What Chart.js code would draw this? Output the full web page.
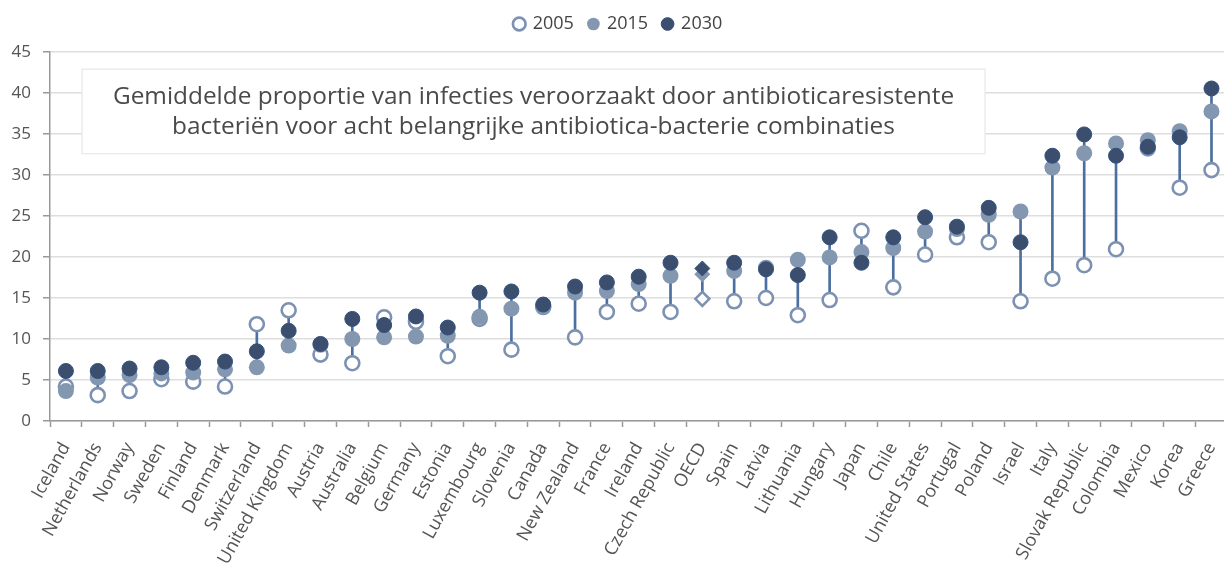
<!DOCTYPE html>
<html>
<head>
<meta charset="utf-8">
<script src="https://cdn.jsdelivr.net/npm/chart.js@4.4.1/dist/chart.umd.min.js"></script>
<style>
  html, body { margin: 0; padding: 0; background: #fff; overflow: hidden; }
</style>
</head>
<body>
<!-- a little wider than the window: the x axis runs off the right edge as in the original -->
<canvas id="chart" width="1237" height="565"></canvas>
<script>
const categories = ["Iceland", "Netherlands", "Norway", "Sweden", "Finland", "Denmark", "Switzerland",
  "United Kingdom", "Austria", "Australia", "Belgium", "Germany", "Estonia", "Luxembourg", "Slovenia",
  "Canada", "New Zealand", "France", "Ireland", "Czech Republic", "OECD", "Spain", "Latvia", "Lithuania",
  "Hungary", "Japan", "Chile", "United States", "Portugal", "Poland", "Israel", "Italy",
  "Slovak Republic", "Colombia", "Mexico", "Korea", "Greece"];

const values2005 = [4.2, 3.15, 3.65, 5.1, 4.8, 4.2, 11.8, 13.5, 8.1, 7.05, 12.65, 12.1, 7.9, 12.45, 8.7,
  13.9, 10.2, 13.3, 14.3, 13.3, 14.9, 14.6, 15.0, 12.9, 14.75, 23.2, 16.3, 20.3, 22.4, 21.8, 14.6, 17.35,
  19.0, 20.95, 33.25, 28.45, 30.6];
const values2015 = [3.65, 5.3, 5.6, 5.8, 5.9, 6.3, 6.55, 9.2, 9.3, 10.0, 10.2, 10.3, 10.4, 12.7, 13.7,
  14.0, 15.65, 15.85, 16.7, 17.7, 17.9, 18.3, 18.7, 19.65, 19.95, 20.6, 21.1, 23.1, 23.4, 25.15, 25.55,
  30.9, 32.65, 33.85, 34.25, 35.35, 37.75];
const values2030 = [6.1, 6.1, 6.4, 6.55, 7.1, 7.25, 8.5, 11.0, 9.4, 12.45, 11.7, 12.75, 11.4, 15.65, 15.8,
  14.2, 16.4, 16.9, 17.6, 19.3, 18.6, 19.3, 18.5, 17.8, 22.4, 19.3, 22.4, 24.85, 23.7, 26.0, 21.8, 32.35,
  34.95, 32.35, 33.45, 34.6, 40.55];

const seriesNames = ["2005", "2015", "2030"];
const titleLines = ["Gemiddelde proportie van infecties veroorzaakt door antibioticaresistente",
  "bacteriën voor acht belangrijke antibiotica-bacterie combinaties"];

const FONT = "'Open Sans', 'Noto Sans', sans-serif";

// OECD average gets a diamond, the countries a circle
const shapes = categories.map(c => c === "OECD" ? "rectRot" : "circle");
// vertical line from lowest to highest of the three years
const spans = categories.map((c, i) => {
  const v = [values2005[i], values2015[i], values2030[i]];
  return [Math.min(...v), Math.max(...v)];
});

// a bit more room under the legend
const legendGap = {
  id: "legendGap",
  beforeUpdate(chart) {
    const lg = chart.legend;
    if (lg && !lg._gapped) {
      const fit = lg.fit;
      lg.fit = function () { fit.call(this); this.height += 9; };
      lg._gapped = true;
    }
  }
};

const titleBox = {
  id: "titleBox",
  beforeDatasetsDraw(chart) {
    const ctx = chart.ctx;
    const a = chart.chartArea;
    const y = chart.scales.y;
    const left = a.left + 32, right = a.left + 935;
    const top = y.getPixelForValue(42.9), bottom = y.getPixelForValue(32.6);
    ctx.save();
    ctx.fillStyle = "#fff";
    ctx.fillRect(left, top, right - left, bottom - top);
    ctx.strokeStyle = "#ececec";
    ctx.lineWidth = 1.5;
    ctx.strokeRect(left, top, right - left, bottom - top);
    ctx.fillStyle = "#4a4a4a";
    ctx.font = "24.4px " + FONT;
    ctx.textAlign = "center";
    ctx.textBaseline = "middle";
    const cx = (left + right) / 2;
    ctx.fillText(titleLines[0], cx, top + 28);
    ctx.fillText(titleLines[1], cx, top + 58);
    ctx.restore();
  }
};

new Chart(document.getElementById("chart"), {
  data: {
    labels: categories,
    datasets: [
      {
        type: "line", label: seriesNames[0], data: values2005, order: 3,
        showLine: false, pointStyle: shapes, pointRadius: 7, pointHoverRadius: 7,
        pointBackgroundColor: "#fff", pointBorderColor: "#7d92b3", pointBorderWidth: 2.6
      },
      {
        type: "line", label: seriesNames[1], data: values2015, order: 2,
        showLine: false, pointStyle: shapes, pointRadius: 8, pointHoverRadius: 8,
        pointBackgroundColor: "#8497b1", pointBorderColor: "#8497b1", pointBorderWidth: 0
      },
      {
        type: "line", label: seriesNames[2], data: values2030, order: 1,
        showLine: false, pointStyle: shapes, pointRadius: 7.5, pointHoverRadius: 7.5,
        pointBackgroundColor: "#3c4e6d", pointBorderColor: "#31507e", pointBorderWidth: 1
      },
      {
        type: "bar", label: "range", data: spans, order: 4,
        backgroundColor: "#4d6f9f", barThickness: 2, borderWidth: 0
      }
    ]
  },
  options: {
    responsive: false,
    animation: false,
    layout: { padding: 0 },
    plugins: {
      tooltip: { enabled: false },
      legend: {
        position: "top",
        labels: {
          usePointStyle: true,
          boxWidth: 9, boxHeight: 9,
          padding: 15,
          color: "#444",
          font: { family: FONT, size: 18 },
          filter: item => item.text !== "range",
          sort: (a, b) => a.datasetIndex - b.datasetIndex
        }
      }
    },
    scales: {
      x: {
        offset: true,
        afterFit: s => { s.height = 144; s.paddingLeft = 0; s.paddingRight = 0; },
        grid: { offset: true, drawOnChartArea: false, tickLength: 6, tickColor: "#999", tickWidth: 1.5 },
        border: { color: "#999", width: 1.5 },
        ticks: {
          autoSkip: false, minRotation: 61, maxRotation: 61, padding: 12,
          color: "#555", font: { family: FONT, size: 18 }
        }
      },
      y: {
        min: 0, max: 45,
        afterFit: s => { s.width = 50; },
        grid: { color: "#dedede", lineWidth: 1.5, tickLength: 7, tickColor: "#999" },
        border: { color: "#999", width: 1.5 },
        ticks: { stepSize: 5, padding: 12, color: "#555", font: { family: FONT, size: 17 } }
      }
    }
  },
  plugins: [legendGap, titleBox]
});
</script>
</body>
</html>
